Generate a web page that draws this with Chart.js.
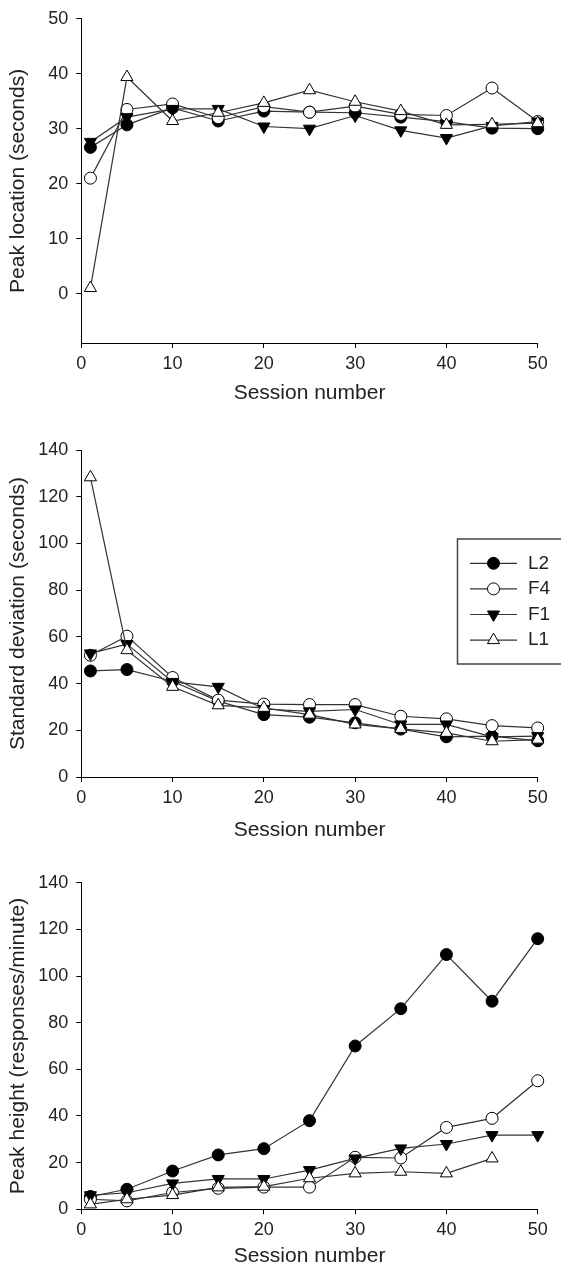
<!DOCTYPE html>
<html>
<head>
<meta charset="utf-8">
<script src="https://cdn.jsdelivr.net/npm/chart.js@4/dist/chart.umd.min.js"></script>
<style>
  body { margin: 0; background: #fff; }
  #wrap { position: relative; width: 561px; height: 1267px; overflow: hidden; }
  canvas { position: absolute; left: 0; }
</style>
</head>
<body>
<div id="wrap">
  <canvas id="peakLoc" width="561" height="422" style="top:0px"></canvas>
  <canvas id="stdDev" width="561" height="428" style="top:422px"></canvas>
  <canvas id="peakHeight" width="561" height="417" style="top:850px"></canvas>
</div>
<script>
// session numbers (x)
const sessions = [1, 5, 10, 15, 20, 25, 30, 35, 40, 45, 50];
const seriesNames = ["L2", "F4", "F1", "L1"];

// panel 1 - peak location (seconds)
const locL2 = [26.6, 30.7, 33.8, 31.4, 33.2, 33.0, 32.9, 32.1, 31.3, 30.1, 30.0];
const locF4 = [21.0, 33.5, 34.5, 32.0, 34.0, 33.0, 34.1, 32.6, 32.4, 37.4, 31.3];
const locF1 = [27.6, 32.1, 33.6, 33.6, 30.4, 30.0, 32.4, 29.7, 28.3, 30.5, 31.3];
const locL1 = [1.0, 39.4, 31.4, 32.9, 34.7, 37.0, 34.9, 33.2, 30.7, 30.8, 31.0];

// panel 2 - standard deviation (seconds)
const sdL2 = [45.4, 46.0, 41.0, 32.5, 26.7, 25.6, 23.2, 20.5, 17.2, 17.5, 15.5];
const sdF4 = [52.1, 60.3, 42.6, 32.9, 31.2, 31.0, 31.0, 26.0, 24.9, 22.0, 21.0];
const sdF1 = [52.9, 56.9, 40.7, 38.6, 29.1, 28.1, 28.9, 22.5, 22.5, 17.2, 17.5];
const sdL1 = [128.3, 54.3, 38.6, 30.7, 29.6, 26.7, 22.5, 20.6, 18.9, 15.3, 16.0];

// panel 3 - peak height (responses/minute)
const htL2 = [5.5, 8.6, 16.4, 23.3, 26.0, 38.0, 70.0, 86.0, 109.2, 89.2, 116.0];
const htF4 = [4.3, 3.6, 7.2, 9.0, 9.5, 9.5, 22.3, 22.0, 35.1, 39.0, 55.1];
const htF1 = [6.0, 7.1, 11.1, 13.0, 13.0, 16.8, 21.8, 26.1, 28.0, 31.8, 31.8];
const htL1 = [2.1, 4.3, 6.1, 9.4, 9.7, 13.3, 15.4, 16.1, 15.4, 21.8, null];

// tick labels
const xTicks = [0, 10, 20, 30, 40, 50];
const locTicks = [0, 10, 20, 30, 40, 50];
const sdTicks = [0, 20, 40, 60, 80, 100, 120, 140];
const htTicks = [0, 20, 40, 60, 80, 100, 120, 140];

const FONT = "'Liberation Sans', Arial, Helvetica, sans-serif";
Chart.defaults.font.family = FONT;
Chart.defaults.color = "#222";

// marker look per series
const markers = {
  L2: { pointStyle: "circle", fill: "#000", radius: 6, rotation: 0, order: 4 },
  F4: { pointStyle: "circle", fill: "#fff", radius: 6, rotation: 0, order: 3 },
  F1: { pointStyle: "triangle", fill: "#000", radius: 7, rotation: 180, order: 2 },
  L1: { pointStyle: "triangle", fill: "#fff", radius: 7, rotation: 0, order: 1 }
};

function makeDatasets(values) {
  return seriesNames.map((name, i) => {
    const m = markers[name];
    return {
      label: name,
      data: sessions.map((s, j) => ({ x: s, y: values[i][j] })),
      borderColor: "#333",
      borderWidth: 1.2,
      pointStyle: m.pointStyle,
      pointRotation: m.rotation,
      pointRadius: m.radius,
      pointBackgroundColor: m.fill,
      pointBorderColor: "#000",
      pointBorderWidth: 1,
      order: m.order,
      clip: false,
      spanGaps: false
    };
  });
}

// boxed legend with line + marker, like the original figure
const boxLegend = {
  id: "boxLegend",
  afterDraw(chart, args, opts) {
    if (!opts.show) return;
    const ctx = chart.ctx;
    ctx.save();
    ctx.strokeStyle = "#444";
    ctx.lineWidth = 1.5;
    ctx.strokeRect(457.5, 117, 130, 125);
    chart.data.datasets.forEach((ds, i) => {
      const y = 141.3 + i * 25.6;
      ctx.strokeStyle = "#333";
      ctx.lineWidth = 1.2;
      ctx.beginPath();
      ctx.moveTo(470, y);
      ctx.lineTo(517, y);
      ctx.stroke();
      ctx.fillStyle = ds.pointBackgroundColor;
      ctx.strokeStyle = "#000";
      ctx.lineWidth = 1;
      Chart.helpers.drawPoint(ctx, {
        pointStyle: ds.pointStyle,
        rotation: ds.pointRotation,
        radius: ds.pointRadius,
        borderWidth: 1
      }, 493.5, y);
      ctx.fillStyle = "#222";
      ctx.font = "19px " + FONT;
      ctx.textBaseline = "middle";
      ctx.textAlign = "left";
      ctx.fillText(ds.label, 528, y);
    });
    ctx.restore();
  }
};

function makeChart(id, values, yTitle, yMin, yMax, yTicks, geo, showLegend) {
  const ctx = document.getElementById(id).getContext("2d");
  return new Chart(ctx, {
    type: "line",
    data: { datasets: makeDatasets(values) },
    plugins: [boxLegend],
    options: {
      responsive: false,
      animation: false,
      layout: { padding: { top: geo.top, right: 23.3, bottom: 0, left: 0 } },
      plugins: {
        legend: { display: false },
        tooltip: { enabled: false },
        boxLegend: { show: showLegend }
      },
      scales: {
        x: {
          type: "linear",
          min: 0,
          max: 50,
          afterBuildTicks: s => { s.ticks = xTicks.map(v => ({ value: v })); },
          afterFit: s => { s.height = geo.xAxisH; },
          grid: { drawOnChartArea: false, drawTicks: true, tickLength: 5, color: "#000" },
          border: { display: true, color: "#000", width: 1 },
          ticks: { font: { size: 18 }, padding: 5, maxRotation: 0 },
          title: {
            display: true,
            text: "Session number",
            font: { size: 21, lineHeight: 1 },
            padding: { top: 4, bottom: geo.titlePad }
          }
        },
        y: {
          type: "linear",
          min: yMin,
          max: yMax,
          afterBuildTicks: s => { s.ticks = yTicks.map(v => ({ value: v })); },
          afterFit: s => { s.width = 81.3; },
          grid: { drawOnChartArea: false, drawTicks: true, tickLength: 5, color: "#000" },
          border: { display: true, color: "#000", width: 1 },
          ticks: { font: { size: 18 }, padding: 8 },
          title: {
            display: true,
            text: yTitle,
            font: { size: 21, lineHeight: 1 },
            padding: { top: 8, bottom: 0 }
          }
        }
      }
    }
  });
}

makeChart("peakLoc", [locL2, locF4, locF1, locL1], "Peak location (seconds)", -9, 50, locTicks,
  { top: 15.7, xAxisH: 79, titlePad: 18.5 }, false);
makeChart("stdDev", [sdL2, sdF4, sdF1, sdL1], "Standard deviation (seconds)", 0, 140, sdTicks,
  { top: 28, xAxisH: 73, titlePad: 9.5 }, true);
makeChart("peakHeight", [htL2, htF4, htF1, htL1], "Peak height (responses/minute)", 0, 140, htTicks,
  { top: 32.7, xAxisH: 57.7, titlePad: 0 }, false);
</script>
</body>
</html>
